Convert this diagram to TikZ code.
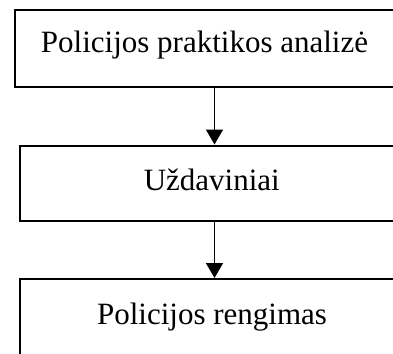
\documentclass[tikz,border=0pt]{standalone}
\usepackage{fontspec}
\setmainfont{Liberation Serif}
\usetikzlibrary{arrows.meta}
\tikzset{
	blokas/.style={draw, line width=2pt, minimum height=77pt, text height=21pt, text depth=7pt, inner sep=0pt, font=\fontsize{31}{37}\selectfont},
	rodykle/.style={line width=1.5pt, -{Triangle[length=15pt, width=17pt]}}
}
\begin{document}
\begin{tikzpicture}[x=1pt, y=-1pt]
		\clip (0,0) rectangle (393,353);
		\node[blokas, minimum width=380pt, text depth=13pt] (analize) at (204.5, 48.5) {Policijos praktikos analizė};
		\node[blokas, minimum width=384.5pt, minimum height=75.5pt] (uzdaviniai) at (211.75, 183.25) {Uždaviniai};
		\node[blokas, minimum width=384pt] (rengimas) at (212, 317.5) {Policijos rengimas};
		\coordinate (vidurys) at (214.5, 0);

		\draw[rodykle] (analize.south -| vidurys) -- (uzdaviniai.north -| vidurys);
		\draw[rodykle] (uzdaviniai.south -| vidurys) -- (rengimas.north -| vidurys);
	\end{tikzpicture}
\end{document}
